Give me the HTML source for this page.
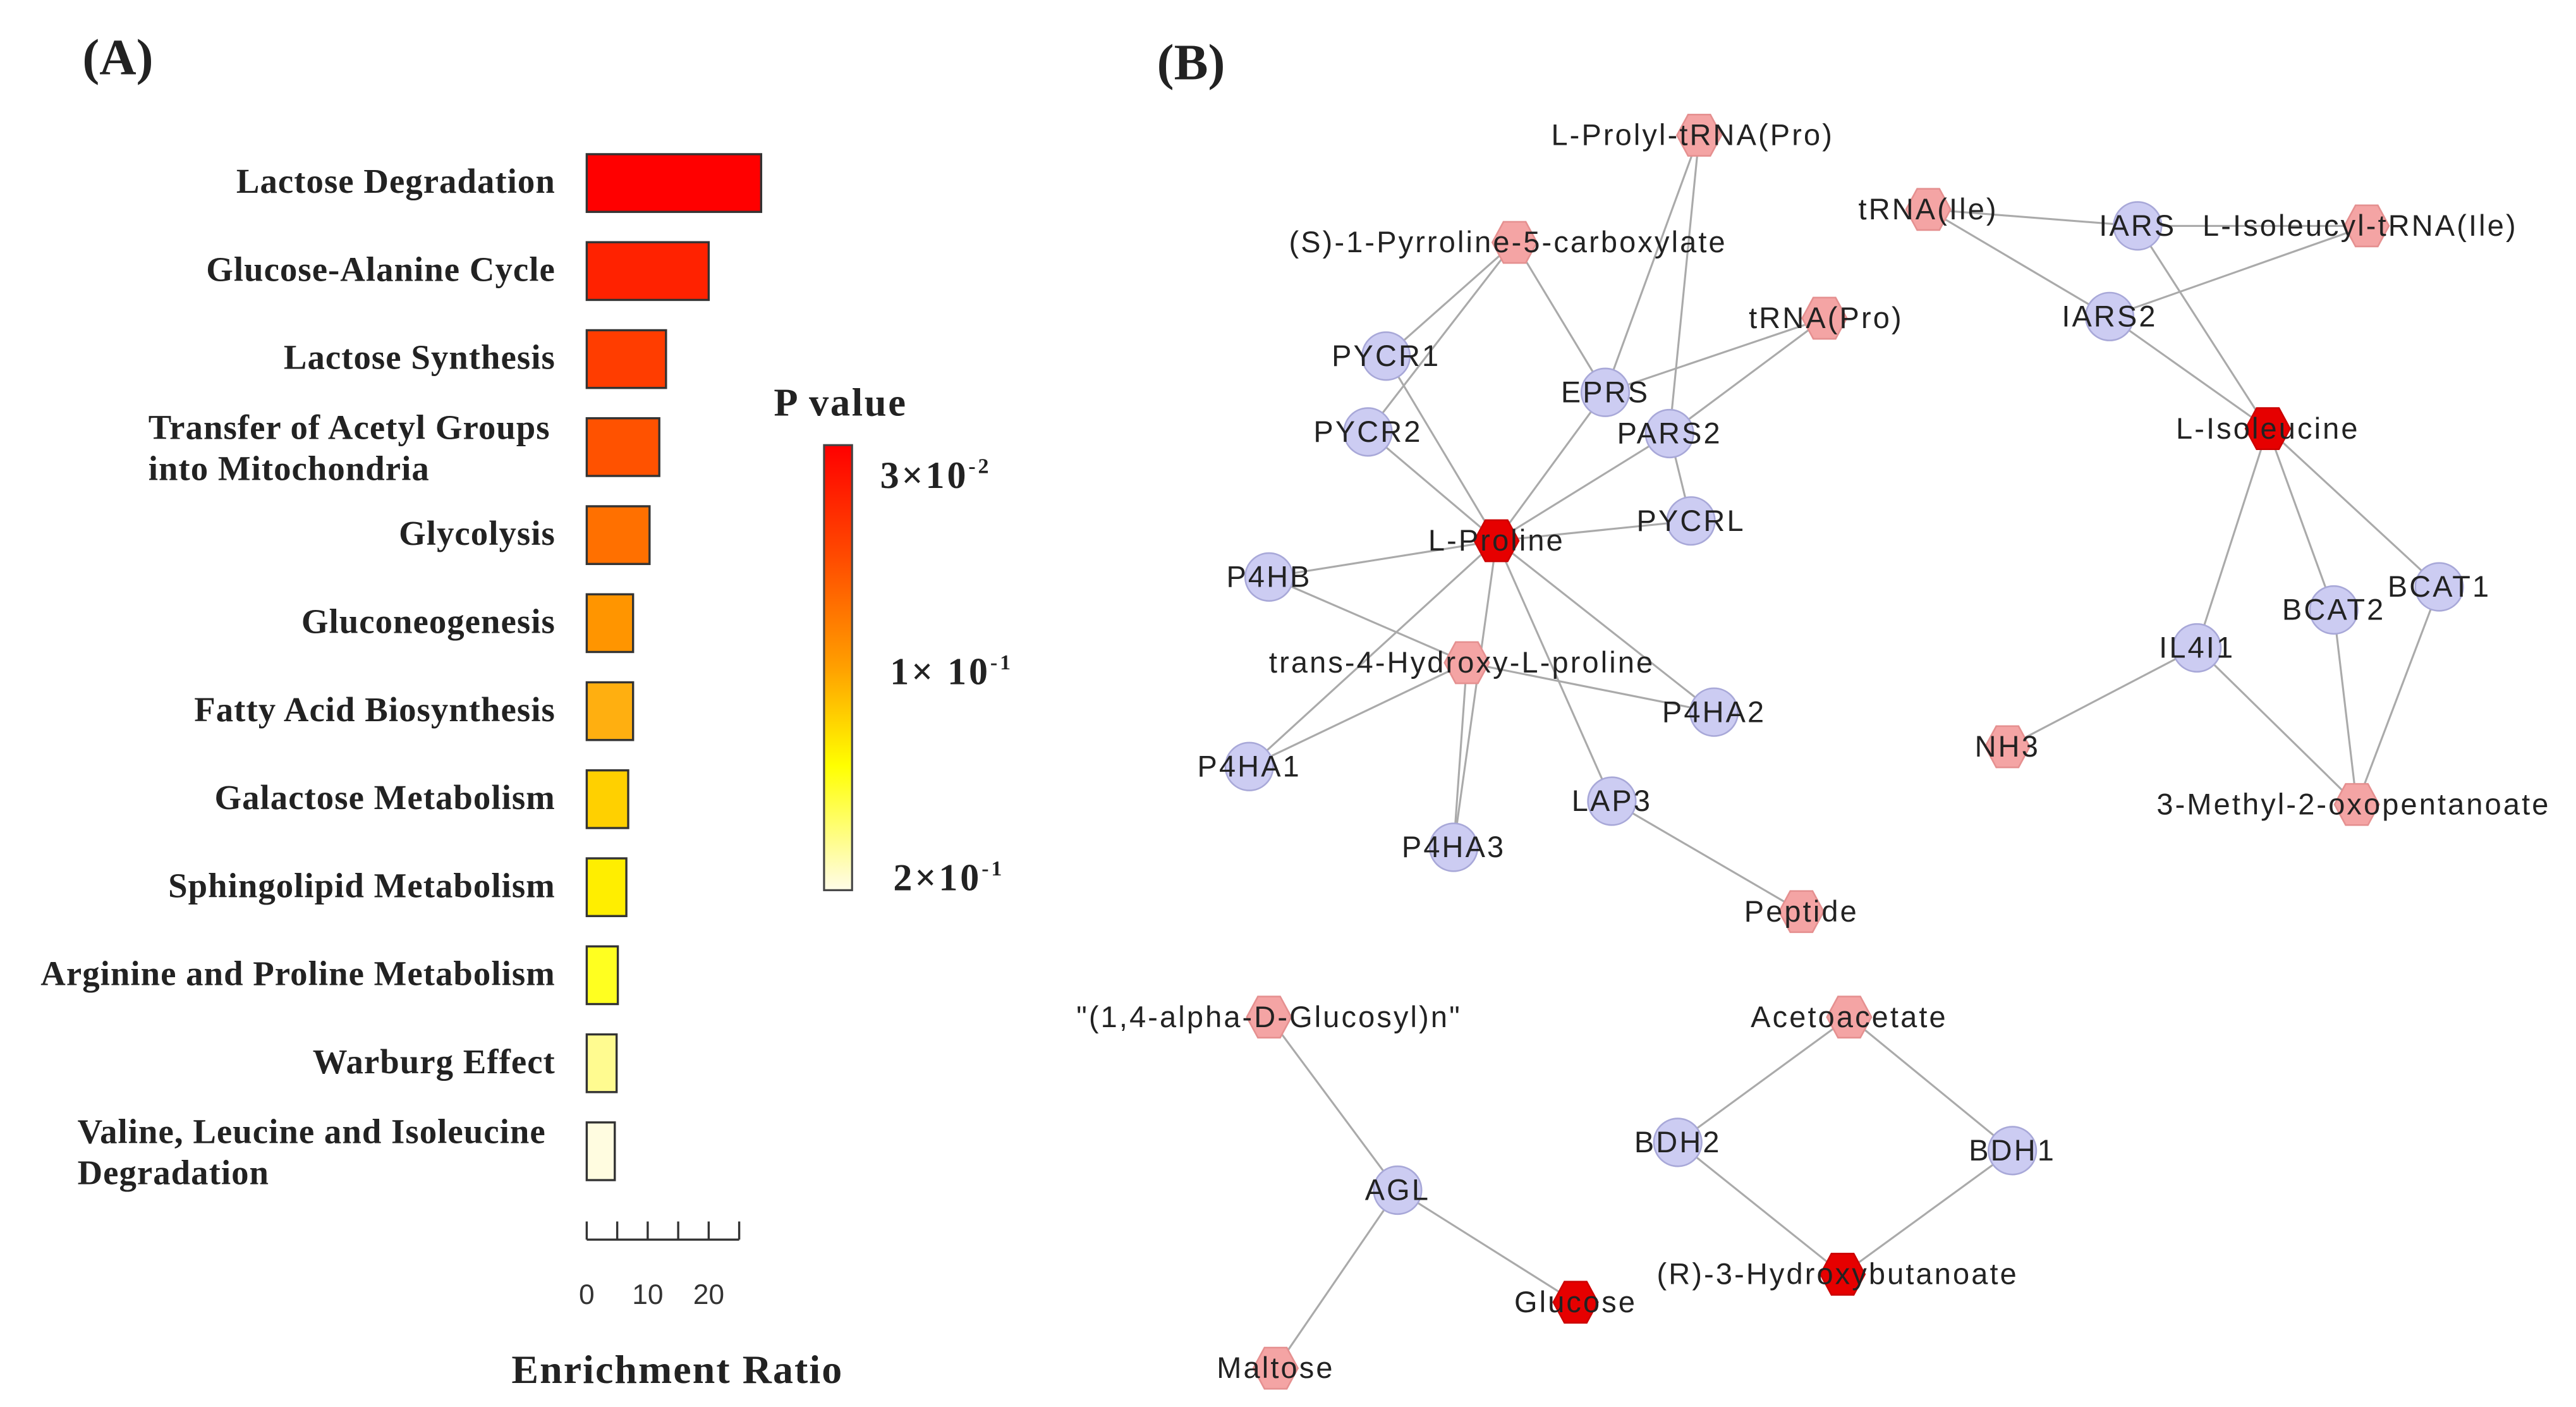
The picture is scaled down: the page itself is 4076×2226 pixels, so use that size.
<!DOCTYPE html>
<html><head><meta charset="utf-8">
<style>
html,body{margin:0;padding:0;background:#fff;}
svg{display:block;}
.lbl{font-family:"Liberation Serif",serif;font-weight:bold;fill:#222;}
.net{font-family:"Liberation Sans",sans-serif;fill:#222;font-size:18px;letter-spacing:1.2px;}
</style></head>
<body>
<svg id="fig" width="4076" height="2226" viewBox="0 0 1563 853.5" xmlns="http://www.w3.org/2000/svg">
  <text x="50" y="45" class="lbl" font-size="31">(A)</text>
  <text x="702" y="48" class="lbl" font-size="31">(B)</text>
  <g id="barchart"></g>
  <g id="legend">
    <defs>
      <linearGradient id="pgrad" x1="0" y1="0" x2="0" y2="1">
        <stop offset="0" stop-color="#ff0000"/>
        <stop offset="0.25" stop-color="#ff4a00"/>
        <stop offset="0.5" stop-color="#ffa000"/>
        <stop offset="0.72" stop-color="#ffff00"/>
        <stop offset="1" stop-color="#fffce8"/>
      </linearGradient>
    </defs>
    <text x="510" y="252" class="lbl" font-size="24" letter-spacing="1" text-anchor="middle">P value</text>
    <rect x="500" y="270" width="17" height="270" fill="url(#pgrad)" stroke="#444" stroke-width="1.2"/>
    <text x="534" y="296" class="lbl" font-size="23" letter-spacing="1.5">3×10<tspan dy="-9" font-size="13">-2</tspan></text>
    <text x="540" y="415" class="lbl" font-size="23" letter-spacing="1.5">1× 10<tspan dy="-9" font-size="13">-1</tspan></text>
    <text x="542" y="540" class="lbl" font-size="23" letter-spacing="1.5">2×10<tspan dy="-9" font-size="13">-1</tspan></text>
  </g>
  <g id="network"></g>
</svg>
<script>
// ---- Bar chart data ----
const categories = ["Lactose Degradation","Glucose-Alanine Cycle","Lactose Synthesis","Transfer of Acetyl Groups|into Mitochondria","Glycolysis","Gluconeogenesis","Fatty Acid Biosynthesis","Galactose Metabolism","Sphingolipid  Metabolism","Arginine and Proline Metabolism","Warburg Effect","Valine, Leucine and Isoleucine|Degradation"];
const enrichment = [28.6, 20, 13, 11.9, 10.3, 7.6, 7.6, 6.8, 6.5, 5.1, 4.9, 4.6];
const barColors = ["#ff0000","#ff2200","#ff3d00","#ff5200","#ff7000","#ff9500","#ffaf10","#ffd000","#ffee00","#ffff20","#fffb90","#fffce0"];
const xTicks = [0,5,10,15,20,25];
const xTickLabels = ["0","10","20"];
const xTickLabelVals = [0,10,20];

const NS="http://www.w3.org/2000/svg";
function mk(tag, attrs, parent){const e=document.createElementNS(NS,tag);for(const k in attrs)e.setAttribute(k,attrs[k]);parent.appendChild(e);return e;}
const x0=356, pxPerUnit=3.7;
function xScale(v){return x0+v*pxPerUnit;}
function yCenter(i){return 111+i*53.4;}
const bc=document.getElementById('barchart');
categories.forEach((c,i)=>{
  const yc=yCenter(i);
  const r=mk('rect',{x:xScale(0),y:yc-17.5,width:xScale(enrichment[i])-xScale(0),height:35,fill:barColors[i],stroke:"#333","stroke-width":1.3},bc);
  
  
  const parts=c.split('|');
  const t=mk('text',{class:'lbl','font-size':21,'letter-spacing':0.4},bc);
  
  
  if(parts.length===1){
    t.setAttribute('x',337);t.setAttribute('y',yc+6);t.setAttribute('text-anchor','end');t.textContent=parts[0];
  } else {
    const lx = i===3?90:47;
    parts.forEach((p,j)=>{const ts=mk('tspan',{x:lx,y:yc-5+j*25},t);ts.textContent=p;});
  }
});
const ay=752;
const axl=mk('line',{x1:xScale(0),x2:xScale(25),y1:ay,y2:ay,stroke:"#333","stroke-width":1.3},bc);


xTicks.forEach(v=>{
  const tk=mk('line',{x1:xScale(v),x2:xScale(v),y1:ay,y2:ay-11,stroke:"#333","stroke-width":1.3},bc);
  
  
});
xTickLabelVals.forEach((v,i)=>{
  const t=mk('text',{x:xScale(v),y:791,'text-anchor':'middle','font-size':17,'font-family':'Liberation Sans, sans-serif',fill:'#333'},bc);
  
  
  t.textContent=xTickLabels[i];
});
const xt=mk('text',{x:411,y:839,'text-anchor':'middle',class:'lbl','font-size':24.5,'letter-spacing':0.8},bc);


xt.textContent="Enrichment Ratio";

// ---- Network ----
const nodes = [
 ["L-Prolyl-tRNA(Pro)","m",1031,82,1027],
 ["(S)-1-Pyrroline-5-carboxylate","m",919,147,915],
 ["tRNA(Pro)","m",1107,193,1108],
 ["PYCR1","g",841,216,841],
 ["PYCR2","g",830,262,830],
 ["EPRS","g",974,238,974],
 ["PARS2","g",1013,263,1013],
 ["PYCRL","g",1026,316,1026],
 ["L-Proline","h",908,328,908],
 ["P4HB","g",770,350,770],
 ["trans-4-Hydroxy-L-proline","m",890,402,887],
 ["P4HA2","g",1040,432,1040],
 ["P4HA1","g",758,465,758],
 ["LAP3","g",978,486,978],
 ["P4HA3","g",882,514,882],
 ["Peptide","m",1093,553,1093],
 ["tRNA(Ile)","m",1170,127,1170],
 ["IARS","g",1297,137,1297],
 ["L-Isoleucyl-tRNA(Ile)","m",1436,137,1432],
 ["IARS2","g",1280,192,1280],
 ["L-Isoleucine","h",1376,260,1376],
 ["BCAT1","g",1480,356,1480],
 ["BCAT2","g",1416,370,1416],
 ["IL4I1","g",1333,393,1333],
 ["NH3","m",1218,453,1218],
 ["3-Methyl-2-oxopentanoate","m",1430,488,1428],
 ["\"(1,4-alpha-D-Glucosyl)n\"","m",770,617,770],
 ["AGL","g",848,722,848],
 ["Glucose","h",956,790,956],
 ["Maltose","m",774,830,774],
 ["Acetoacetate","m",1122,617,1122],
 ["BDH2","g",1018,693,1018],
 ["BDH1","g",1221,698,1221],
 ["(R)-3-Hydroxybutanoate","h",1118,773,1115]
];
const edges = [
 [0,5],[0,6],[1,3],[1,4],[1,5],[2,5],[2,6],[3,8],[4,8],[5,8],[6,8],[7,8],[6,7],
 [9,8],[9,10],[8,12],[8,14],[8,11],[8,13],[10,12],[10,14],[10,11],[13,15],
 [16,17],[16,19],[17,18],[19,18],[17,20],[19,20],[20,23],[20,22],[20,21],
 [23,24],[23,25],[22,25],[21,25],[26,27],[27,28],[27,29],[30,31],[30,32],[31,33],[32,33]
];
const net=document.getElementById('network');
edges.forEach(([a,b])=>{
  const l=mk('line',{x1:nodes[a][2],y1:nodes[a][3],x2:nodes[b][2],y2:nodes[b][3],stroke:"#aaa","stroke-width":1.2},net);
  
  
});
function hexPts(cx,cy,rx,ry){
  return [[cx-rx,cy],[cx-rx/2,cy-ry],[cx+rx/2,cy-ry],[cx+rx,cy],[cx+rx/2,cy+ry],[cx-rx/2,cy+ry]].map(p=>p.join(',')).join(' ');
}
nodes.forEach(n=>{
  const [name,t,x,y]=n;
  let s;
  if(t==="g"){
    s=mk('circle',{cx:x,cy:y,r:14.5,fill:"#ccccf2",stroke:"#a8a8d8","stroke-width":1},net);
  } else {
    s=mk('polygon',{points:hexPts(x,y,13.5,12.5),fill:t==="h"?"#e60000":"#f4a4a4",stroke:t==="h"?"#c00":"#e59090","stroke-width":1},net);
  }
  
  
});
nodes.forEach(n=>{
  const tx=mk('text',{x:n[4],y:n[3]+6,'text-anchor':'middle',class:'net'},net);
  
  
  tx.textContent=n[0];
});
</script>
</body></html>
